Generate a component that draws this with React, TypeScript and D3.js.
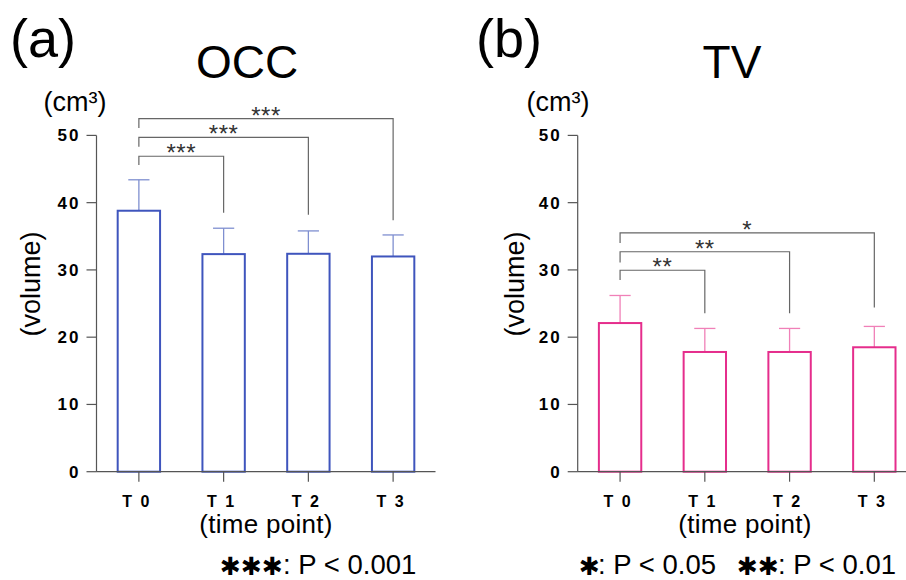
import React from "react";
import * as d3 from "d3";

const timePoints = ["T 0", "T 1", "T 2", "T 3"];
const occMeans = [38.8, 32.35, 32.4, 32.0];
const occErrTops = [43.4, 36.2, 35.8, 35.2];
const tvMeans = [22.1, 17.8, 17.8, 18.5];
const tvErrTops = [26.2, 21.3, 21.3, 21.6];
const yTicks = [0, 10, 20, 30, 40, 50];

// brackets: [targetIndex, barY, leftEnd, rightEnd, label]
const occBrackets: [number, number, number, number, string][] = [
  [1, 46.9, 45.6, 38.5, "***"],
  [2, 49.7, 48.3, 38.2, "***"],
  [3, 52.5, 51.1, 37.4, "***"],
];
const tvBrackets: [number, number, number, number, string][] = [
  [1, 29.95, 28.5, 23.55, "**"],
  [2, 32.7, 31.1, 23.55, "**"],
  [3, 35.5, 34.0, 24.4, "*"],
];

const FONT = "'Liberation Sans', Arial, sans-serif";

type PanelProps = {
  x0: number;
  letter: string;
  letterX: number;
  title: string;
  titleX: number;
  unitX: number;
  volX: number;
  xLabelX: number;
  means: number[];
  errTops: number[];
  brackets: [number, number, number, number, string][];
  barColor: string;
  errColor: string;
};

function Panel(p: PanelProps) {
  const y = d3.scaleLinear().domain([0, 50]).range([471.7, 135.4]);
  const x = d3.scaleBand<string>().domain(timePoints).range([p.x0, p.x0 + 339]).paddingInner(0.5).paddingOuter(0.25);
  const bw = x.bandwidth();
  const cx = (i: number) => (x(timePoints[i]) as number) + bw / 2;
  const axisColor = "#555";
  return (
    <g>
      <text x={p.letterX} y={57} fontSize={54} fontFamily={FONT}>{p.letter}</text>
      <text x={p.titleX} y={78} fontSize={46} fontFamily={FONT} textAnchor="middle">{p.title}</text>
      <text x={p.unitX} y={111} fontSize={27} fontFamily={FONT} textAnchor="middle">(cm³)</text>
      <text transform={`translate(${p.volX},284) rotate(-90)`} fontSize={27} fontFamily={FONT} textAnchor="middle" dominantBaseline="central">(volume)</text>
      {/* y axis */}
      <line x1={p.x0} x2={p.x0} y1={y(50)} y2={y(0)} stroke={axisColor} strokeWidth={1.2} />
      {yTicks.map((t) => (
        <g key={t}>
          <line x1={p.x0 - 10} x2={p.x0} y1={y(t)} y2={y(t)} stroke={axisColor} strokeWidth={1.2} />
          <text x={p.x0 - 16} y={y(t) + 6} fontSize={17} fontWeight="bold" fontFamily={FONT} textAnchor="end" letterSpacing={2}>{t}</text>
        </g>
      ))}
      {/* bars */}
      {p.means.map((m, i) => (
        <g key={i}>
          <line x1={cx(i)} x2={cx(i)} y1={y(m)} y2={y(p.errTops[i])} stroke={p.errColor} strokeWidth={1.3} />
          <line x1={cx(i) - bw / 4} x2={cx(i) + bw / 4} y1={y(p.errTops[i])} y2={y(p.errTops[i])} stroke={p.errColor} strokeWidth={1.3} />
          <rect x={x(timePoints[i]) as number} y={y(m)} width={bw} height={y(0) - y(m)} fill="white" stroke={p.barColor} strokeWidth={2} />
        </g>
      ))}
      {/* x axis */}
      <line x1={p.x0} x2={p.x0 + 339} y1={y(0)} y2={y(0)} stroke={axisColor} strokeWidth={1.2} />
      {timePoints.map((t, i) => (
        <g key={t}>
          <line x1={cx(i)} x2={cx(i)} y1={y(0)} y2={y(0) + 10} stroke={axisColor} strokeWidth={1.2} />
          <text x={cx(i) - 2} y={507} fontSize={16} fontWeight="bold" fontFamily={FONT} textAnchor="middle" letterSpacing={2}>{t}</text>
        </g>
      ))}
      <text x={p.xLabelX} y={532.5} fontSize={26} fontFamily={FONT} textAnchor="middle" letterSpacing={0.3}>(time point)</text>
      {/* brackets */}
      {p.brackets.map(([j, by, le, re, lab], k) => (
        <g key={k}>
          <path d={`M${cx(0)},${y(le)}V${y(by)}H${cx(j)}V${y(re)}`} fill="none" stroke="#666" strokeWidth={1.2} />
          <text x={(cx(0) + cx(j)) / 2} y={y(by) + 5} fontSize={24} fontFamily={FONT} textAnchor="middle" fill="#333" letterSpacing={0.5}>{lab}</text>
        </g>
      ))}
    </g>
  );
}

const STAR_FONT = "'DejaVu Sans', sans-serif";

export default function App() {
  return (
    <svg width={906} height={580} style={{ display: "block", position: "absolute", left: 0, top: 0, background: "white" }}>
      <Panel x0={96.5} letter="(a)" letterX={10} title="OCC" titleX={247} unitX={75} volX={31} xLabelX={266}
        means={occMeans} errTops={occErrTops} brackets={occBrackets} barColor="#3f55bd" errColor="#7f8fd0" />
      <Panel x0={577.7} letter="(b)" letterX={476} title="TV" titleX={732} unitX={558} volX={515} xLabelX={745}
        means={tvMeans} errTops={tvErrTops} brackets={tvBrackets} barColor="#e52d8c" errColor="#f080b8" />
      <text y={574} fontSize={27.5} fontFamily={FONT}>
        <tspan x={220} y={575} fontFamily={STAR_FONT} fontSize={25}>✱✱✱</tspan>
        <tspan x={283} y={574}>: P &lt; 0.001</tspan>
      </text>
      <text y={574} fontSize={27.5} fontFamily={FONT}>
        <tspan x={579} y={575} fontFamily={STAR_FONT} fontSize={25}>✱</tspan>
        <tspan x={598} y={574}>: P &lt; 0.05</tspan>
        <tspan x={737} y={575} fontFamily={STAR_FONT} fontSize={25}>✱✱</tspan>
        <tspan x={778} y={574}>: P &lt; 0.01</tspan>
      </text>
    </svg>
  );
}
